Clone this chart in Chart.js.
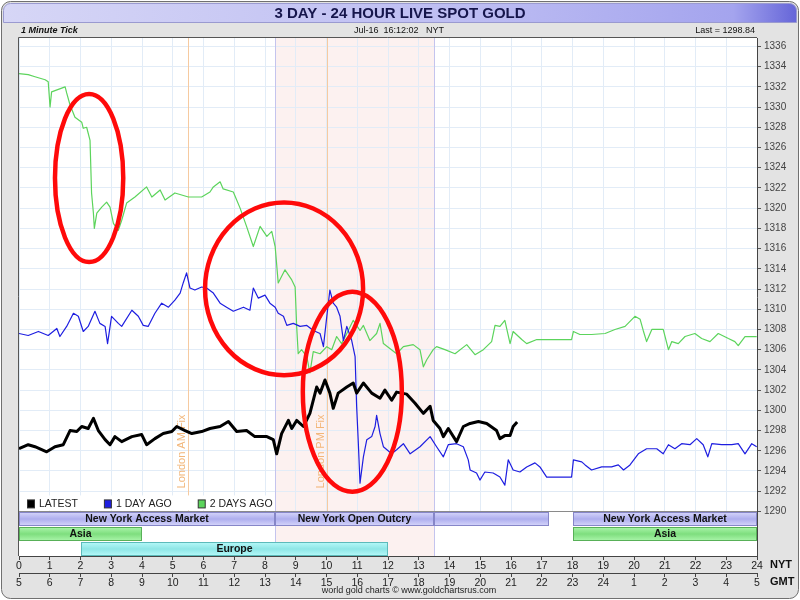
<!DOCTYPE html>
<html>
<head>
<meta charset="utf-8">
<title>3 Day Spot Gold</title>
<script src="https://cdn.jsdelivr.net/npm/chart.js@4.4.1/dist/chart.umd.min.js"></script>
<style>
html, body { margin: 0; padding: 0; background: #fff; }
#gold { display: block; }
</style>
</head>
<body>
<canvas id="gold" width="800" height="600"></canvas>
<script>
// NY time in decimal hours, price in USD/oz
const latestHours = [0.00,0.30,0.52,0.90,1.17,1.44,1.66,1.88,2.04,2.25,
  2.42,2.58,2.80,2.96,3.12,3.34,3.67,3.99,4.15,4.42,
  4.69,4.97,5.13,5.40,5.62,5.94,6.21,6.54,6.81,7.08,
  7.40,7.67,8.06,8.27,8.38,8.54,8.76,8.87,9.03,9.25,
  9.46,9.68,9.79,9.95,10.11,10.22,10.38,10.66,10.87,10.98,
  11.20,11.47,11.74,11.90,12.12,12.28,12.61,12.88,13.15,13.37,
  13.47,13.69,13.80,13.96,14.23,14.45,14.67,14.94,15.21,15.53,
  15.64,15.80,15.97,16.07,16.20];
const latestPrice = [1296.2,1296.6,1296.4,1295.9,1296.4,1296.6,1298.0,1297.9,1298.4,1298.2,
  1299.2,1298.0,1297.1,1296.6,1297.4,1296.9,1297.4,1297.6,1296.6,1297.2,
  1297.7,1297.9,1298.4,1298.0,1297.7,1297.9,1298.2,1298.4,1298.9,1297.9,
  1298.0,1297.4,1297.4,1297.1,1295.7,1297.7,1299.0,1298.2,1299.0,1298.4,
  1299.7,1302.3,1301.7,1303.0,1301.7,1300.2,1301.7,1302.3,1302.7,1301.7,
  1302.7,1301.7,1301.2,1302.0,1301.0,1301.8,1301.6,1300.7,1299.7,1300.4,
  1299.0,1298.2,1297.4,1298.2,1296.9,1298.4,1298.7,1298.9,1298.7,1298.0,
  1297.2,1297.5,1297.5,1298.4,1298.84];

const dayAgoHours = [0.00,0.30,0.63,0.95,1.23,1.33,1.55,1.77,1.93,2.09,
  2.25,2.47,2.63,2.80,2.88,3.01,3.23,3.34,3.67,3.88,
  4.04,4.20,4.42,4.64,4.86,5.07,5.24,5.34,5.45,5.56,
  5.72,5.94,6.10,6.32,6.54,6.75,6.97,7.30,7.51,7.62,
  7.78,8.00,8.16,8.33,8.43,8.60,8.71,8.92,9.14,9.36,
  9.57,9.79,9.90,10.01,10.11,10.22,10.33,10.44,10.55,10.66,
  10.82,10.93,10.98,11.03,11.09,11.20,11.31,11.47,11.58,11.63,
  11.74,11.85,12.12,12.28,12.50,12.72,13.04,13.37,13.58,13.80,
  13.96,14.23,14.45,14.61,14.67,14.88,14.99,15.15,15.42,15.64,
  15.80,15.91,16.07,16.29,16.51,16.78,16.94,17.16,17.97,18.03,
  18.30,18.41,18.62,18.95,19.27,19.49,19.66,19.87,20.14,20.41,
  20.74,20.95,21.12,21.33,21.55,21.82,22.04,22.25,22.40,22.53,
  22.85,23.18,23.39,23.61,23.83,23.99];
const dayAgoPrice = [1307.6,1307.4,1307.8,1307.4,1308.1,1307.3,1308.3,1309.6,1309.3,1307.8,
  1308.3,1309.8,1308.6,1308.3,1306.6,1309.3,1308.6,1308.3,1309.9,1309.3,
  1308.4,1308.3,1309.6,1310.6,1310.2,1310.9,1311.6,1312.6,1313.6,1312.1,
  1311.9,1312.2,1312.1,1311.6,1310.6,1310.2,1309.8,1310.2,1309.9,1312.1,
  1311.1,1311.4,1310.6,1310.2,1309.6,1309.3,1308.4,1308.6,1308.3,1308.4,
  1307.9,1307.6,1306.3,1309.3,1311.9,1310.6,1310.2,1309.3,1306.9,1308.3,
  1306.9,1305.3,1300.4,1297.1,1292.8,1295.4,1297.1,1297.4,1298.4,1299.5,
  1297.7,1296.4,1295.7,1296.1,1296.7,1295.7,1296.4,1297.4,1296.4,1295.4,
  1296.6,1296.7,1296.4,1295.1,1294.1,1293.8,1293.1,1293.9,1293.8,1293.4,
  1292.6,1295.1,1294.1,1293.9,1294.4,1294.8,1294.4,1293.4,1293.4,1295.1,
  1294.9,1294.6,1294.1,1294.4,1294.4,1294.6,1294.1,1294.6,1295.7,1296.2,
  1296.2,1295.7,1296.6,1296.2,1296.7,1296.6,1297.2,1296.6,1295.4,1296.7,
  1296.6,1296.6,1296.7,1295.7,1296.7,1296.4];

const twoDaysHours = [0.00,0.30,0.52,0.85,0.95,1.01,1.06,1.50,1.55,1.66,
  1.82,2.04,2.09,2.20,2.31,2.36,2.42,2.45,2.53,2.69,
  2.85,2.96,3.07,3.23,3.34,3.50,3.77,4.15,4.32,4.59,
  4.75,5.07,5.51,5.94,6.21,6.32,6.54,6.64,6.97,7.19,
  7.40,7.62,7.84,8.06,8.22,8.33,8.43,8.65,8.87,8.98,
  9.03,9.08,9.19,9.36,9.46,9.57,9.79,10.01,10.17,10.33,
  10.49,10.66,10.87,11.09,11.20,11.41,11.63,11.74,11.85,12.07,
  12.28,12.50,12.82,13.04,13.15,13.26,13.47,13.58,13.85,14.18,
  14.56,14.83,15.10,15.37,15.48,15.64,15.80,15.97,16.07,16.35,
  16.51,16.84,17.16,17.97,18.03,18.24,18.62,19.06,19.38,19.71,
  19.87,20.03,20.20,20.30,20.41,20.58,20.95,21.12,21.23,21.44,
  21.66,21.98,22.20,22.47,22.74,23.07,23.28,23.39,23.61,23.99];
const twoDaysPrice = [1333.3,1333.2,1333.0,1332.7,1332.5,1330.0,1331.5,1332.0,1331.4,1330.2,
  1329.0,1328.5,1327.9,1328.0,1326.7,1321.5,1319.5,1318.0,1319.5,1320.1,
  1320.6,1320.1,1318.5,1317.8,1318.8,1320.5,1321.1,1322.1,1321.1,1321.8,
  1320.8,1321.5,1321.1,1321.1,1321.6,1322.1,1322.6,1321.9,1321.6,1320.0,
  1318.2,1316.2,1318.2,1317.2,1317.7,1316.2,1312.6,1313.9,1312.9,1312.2,
  1308.3,1305.6,1306.0,1305.3,1303.7,1305.8,1305.6,1306.3,1306.0,1307.3,
  1306.6,1307.6,1308.9,1307.9,1308.4,1306.9,1307.6,1308.6,1306.6,1306.1,
  1305.6,1306.3,1306.5,1306.0,1304.3,1305.0,1306.0,1306.3,1306.0,1305.6,
  1306.5,1305.5,1306.0,1306.8,1308.4,1308.3,1308.9,1306.6,1307.8,1307.0,
  1306.6,1307.0,1307.0,1307.0,1307.8,1307.5,1307.5,1307.6,1308.0,1308.3,
  1308.8,1309.3,1309.0,1307.9,1306.8,1308.0,1308.0,1306.0,1306.8,1306.6,
  1307.3,1307.6,1307.1,1306.8,1307.6,1307.1,1306.8,1306.4,1307.3,1307.3];

// axis labels
const nytHours = [0,1,2,3,4,5,6,7,8,9,10,11,12,13,14,15,16,17,18,19,20,21,22,23,24];
const gmtHours = [5,6,7,8,9,10,11,12,13,14,15,16,17,18,19,20,21,22,23,24,1,2,3,4,5];
const priceTicks = [1290,1292,1294,1296,1298,1300,1302,1304,1306,1308,1310,1312,1314,1316,
  1318,1320,1322,1324,1326,1328,1330,1332,1334,1336];

// market sessions (NY hours) drawn under the price area
const sessionName = ['New York Access Market', 'New York Open Outcry', '', 'New York Access Market', 'Asia', 'Asia', 'Europe'];
const sessionFrom = [0, 8.333, 13.5, 18, 0, 18, 2];
const sessionTo = [8.333, 13.5, 17.25, 24, 4, 24, 12];
const sessionRow = [0, 0, 0, 0, 1, 1, 2];

const fixName = ['London AM Fix', 'London PM Fix'];
const fixHour = [5.5, 10.0];

// red hand drawn circles, in hours / dollars
const circleHour = [2.28, 8.62, 10.84];
const circlePrice = [1322.97, 1312.02, 1301.84];
const circleRadHour = [1.11, 2.57, 1.61];
const circleRadPrice = [8.31, 8.54, 9.89];

const FONT = '"Liberation Sans", Arial, Helvetica, sans-serif';

function toPoints(hours, prices) {
  return hours.map((h, i) => ({ x: h, y: prices[i] }));
}

const decor = {
  id: 'decor',
  beforeDraw(chart) {
    const c = chart.ctx, a = chart.chartArea, xs = chart.scales.x;
    const W = chart.width, H = chart.height;
    c.save();
    c.fillStyle = '#ffffff';
    c.fillRect(0, 0, W, H);
    c.beginPath();
    c.roundRect(1.5, 1.5, W - 3, H - 3, 9);
    c.fillStyle = '#e3e3e3';
    c.fill();
    c.strokeStyle = '#707070';
    c.lineWidth = 1;
    c.stroke();

    // title bar
    const g = c.createLinearGradient(3, 0, W - 3, 0);
    g.addColorStop(0, '#d6d6f6');
    g.addColorStop(0.6, '#bcbcf2');
    g.addColorStop(0.92, '#a4a4ee');
    g.addColorStop(1, '#6565d8');
    c.beginPath();
    c.roundRect(3.5, 3.5, W - 7, 19, [7, 7, 0, 0]);
    c.fillStyle = g;
    c.fill();
    c.strokeStyle = '#9a9ad0';
    c.stroke();
    c.fillStyle = '#16164c';
    c.font = 'bold 15px ' + FONT;
    c.textAlign = 'center';
    c.textBaseline = 'middle';
    c.fillText('3 DAY - 24 HOUR LIVE SPOT GOLD', W / 2, 14);

    // sub title row
    c.fillStyle = '#111';
    c.font = 'italic bold 9px ' + FONT;
    c.textAlign = 'left';
    c.fillText('1 Minute Tick', 21, 31);
    c.font = '9px ' + FONT;
    c.textAlign = 'center';
    c.fillText('Jul-16  16:12:02   NYT', 399, 31);
    c.textAlign = 'right';
    c.fillText('Last = ' + latestPrice[latestPrice.length - 1].toFixed(2), 755, 31);

    // plot background and open outcry shading
    c.fillStyle = '#ffffff';
    c.fillRect(a.left, a.top, a.right - a.left, a.bottom - a.top);
    const p0 = xs.getPixelForValue(sessionFrom[1]);
    const p1 = xs.getPixelForValue(sessionTo[1]);
    c.fillStyle = '#fcf1f0';
    c.fillRect(p0, a.top, p1 - p0, a.bottom - a.top);
    c.restore();
  },

  beforeDatasetsDraw(chart) {
    const c = chart.ctx, a = chart.chartArea, xs = chart.scales.x, ys = chart.scales.y;
    const zoneTop = ys.getPixelForValue(priceTicks[0]);
    c.save();

    // session boundary lines for the outcry
    c.strokeStyle = '#c4c4ee';
    c.lineWidth = 1;
    [sessionFrom[1], sessionTo[1]].forEach(h => {
      const px = Math.round(xs.getPixelForValue(h)) + 0.5;
      c.beginPath();
      c.moveTo(px, a.top);
      c.lineTo(px, a.bottom);
      c.stroke();
    });

    // London fixes
    fixHour.forEach((h, i) => {
      const px = Math.round(xs.getPixelForValue(h)) + 0.5;
      c.strokeStyle = '#f6caa0';
      c.beginPath();
      c.moveTo(px, a.top);
      c.lineTo(px, zoneTop);
      c.stroke();
      c.save();
      c.translate(px - 7, zoneTop - 23);
      c.rotate(-Math.PI / 2);
      c.fillStyle = '#f2b679';
      c.font = '11px ' + FONT;
      c.textAlign = 'left';
      c.textBaseline = 'middle';
      c.fillText(fixName[i], 0, 0);
      c.restore();
    });

    // market session zone
    const rowH = (a.bottom - zoneTop) / 3;
    c.fillStyle = '#ffffff';
    c.fillRect(a.left, zoneTop, a.right - a.left, a.bottom - zoneTop);
    const p0 = xs.getPixelForValue(sessionFrom[1]);
    const p1 = xs.getPixelForValue(sessionTo[1]);
    c.fillStyle = '#fcf1f0';
    c.fillRect(p0, zoneTop, p1 - p0, a.bottom - zoneTop);
    c.strokeStyle = '#c4c4ee';
    [p0, p1].forEach(px => {
      px = Math.round(px) + 0.5;
      c.beginPath();
      c.moveTo(px, zoneTop);
      c.lineTo(px, a.bottom);
      c.stroke();
    });

    const rowFill = [['#d4d4fa', '#aeaeee'], ['#a8f4a8', '#7ede7e'], ['#b4f8f8', '#8ee6e6']];
    const rowLine = ['#8686c8', '#58b058', '#5cbaba'];
    sessionName.forEach((name, i) => {
      const r = sessionRow[i];
      const x0 = Math.round(xs.getPixelForValue(sessionFrom[i])) + 0.5;
      const x1 = Math.round(xs.getPixelForValue(sessionTo[i])) - 0.5;
      const y0 = Math.round(zoneTop + r * rowH) + 1.5;
      const y1 = Math.round(zoneTop + (r + 1) * rowH) - 0.5;
      const gr = c.createLinearGradient(0, y0, 0, y1);
      gr.addColorStop(0, rowFill[r][0]);
      gr.addColorStop(0.5, rowFill[r][1]);
      gr.addColorStop(1, rowFill[r][0]);
      c.fillStyle = gr;
      c.fillRect(x0, y0, x1 - x0, y1 - y0);
      c.strokeStyle = rowLine[r];
      c.strokeRect(x0, y0, x1 - x0, y1 - y0);
      if (name) {
        c.fillStyle = '#111';
        c.font = 'bold 10.5px ' + FONT;
        c.textAlign = 'center';
        c.textBaseline = 'middle';
        c.fillText(name, (x0 + x1) / 2, (y0 + y1) / 2 + 0.5);
      }
    });

    // separator at the bottom of the price area
    c.strokeStyle = '#8a8a8a';
    c.beginPath();
    c.moveTo(a.left, Math.round(zoneTop) + 0.5);
    c.lineTo(a.right, Math.round(zoneTop) + 0.5);
    c.stroke();

    // legend
    c.fillStyle = '#ffffff';
    c.fillRect(a.left + 1, zoneTop - 16, p0 - a.left - 2, 15);
    c.font = '10.5px ' + FONT;
    c.textAlign = 'left';
    c.textBaseline = 'middle';
    let lx = a.left + 8;
    const ly = zoneTop - 7.5;
    chart.data.datasets.forEach(ds => {
      c.fillStyle = ds.borderColor;
      c.fillRect(lx + 0.5, ly - 4, 7, 8);
      c.strokeStyle = '#333';
      c.strokeRect(lx + 0.5, ly - 4, 7, 8);
      c.fillStyle = '#222';
      c.fillText(ds.label, lx + 12, ly + 0.5);
      lx += 12 + c.measureText(ds.label).width + 26;
    });
    c.restore();
  },

  afterDatasetsDraw(chart) {
    const c = chart.ctx, a = chart.chartArea, xs = chart.scales.x, ys = chart.scales.y;
    c.save();
    c.strokeStyle = '#ff0a0a';
    c.lineWidth = 4.5;
    circleHour.forEach((h, i) => {
      const cx = xs.getPixelForValue(h);
      const cy = ys.getPixelForValue(circlePrice[i]);
      const rx = Math.abs(xs.getPixelForValue(h + circleRadHour[i]) - cx);
      const ry = Math.abs(ys.getPixelForValue(circlePrice[i] + circleRadPrice[i]) - cy);
      c.beginPath();
      c.ellipse(cx, cy, rx, ry, 0, 0, Math.PI * 2);
      c.stroke();
    });
    // frame left and top
    c.strokeStyle = '#555';
    c.lineWidth = 1;
    c.beginPath();
    c.moveTo(Math.round(a.left) - 0.5, a.bottom);
    c.lineTo(Math.round(a.left) - 0.5, Math.round(a.top) - 0.5);
    c.lineTo(a.right, Math.round(a.top) - 0.5);
    c.stroke();
    c.restore();
  },

  afterDraw(chart) {
    const c = chart.ctx, xs = chart.scales.x, x2 = chart.scales.x2;
    c.save();
    c.fillStyle = '#111';
    c.font = 'bold 11px ' + FONT;
    c.textAlign = 'left';
    c.textBaseline = 'middle';
    c.fillText('NYT', 770, xs.top + 9);
    c.fillText('GMT', 770, x2.top + 9);
    c.font = '9px ' + FONT;
    c.textAlign = 'center';
    c.fillStyle = '#222';
    c.fillText('world gold charts \u00A9 www.goldchartsrus.com', 409, 591);
    c.restore();
  }
};

const ctx = document.getElementById('gold').getContext('2d');
const chart = new Chart(ctx, {
  type: 'line',
  data: {
    datasets: [
      { label: 'LATEST', data: toPoints(latestHours, latestPrice), borderColor: '#000000',
        borderWidth: 3, xAxisID: 'x', yAxisID: 'y' },
      { label: '1 DAY AGO', data: toPoints(dayAgoHours, dayAgoPrice), borderColor: '#1e1ee0',
        borderWidth: 1.2, xAxisID: 'x', yAxisID: 'y' },
      { label: '2 DAYS AGO', data: toPoints(twoDaysHours, twoDaysPrice), borderColor: '#5cd45c',
        borderWidth: 1.2, xAxisID: 'x', yAxisID: 'y' }
    ]
  },
  options: {
    responsive: false,
    animation: false,
    devicePixelRatio: 1,
    layout: { padding: { left: 19, top: 38, right: 13, bottom: 11 } },
    elements: {
      point: { radius: 0 },
      line: { tension: 0, borderJoinStyle: 'round' }
    },
    plugins: {
      legend: { display: false },
      tooltip: { enabled: false },
      title: { display: false }
    },
    scales: {
      x: {
        type: 'linear', position: 'bottom', min: 0, max: 24,
        afterBuildTicks: s => { s.ticks = nytHours.map(v => ({ value: v })); },
        afterFit: s => { s.height = 17; },
        grid: { color: '#e2ecf7', tickColor: '#444', tickLength: 4 },
        border: { color: '#444', width: 1 },
        ticks: { autoSkip: false, maxRotation: 0, padding: 0, color: '#222',
          font: { family: FONT, size: 10.5 },
          callback: (v, i) => String(nytHours[i]) }
      },
      x2: {
        axis: 'x', type: 'linear', position: 'bottom', min: 0, max: 24,
        afterBuildTicks: s => { s.ticks = nytHours.map(v => ({ value: v })); },
        afterFit: s => { s.height = 16; },
        grid: { drawOnChartArea: false, tickColor: '#444', tickLength: 4 },
        border: { color: '#444', width: 1 },
        ticks: { autoSkip: false, maxRotation: 0, padding: 0, color: '#222',
          font: { family: FONT, size: 10.5 },
          callback: (v, i) => String(gmtHours[i]) }
      },
      y: {
        position: 'right', min: 1285.59, max: 1336.83,
        afterBuildTicks: s => { s.ticks = priceTicks.map(v => ({ value: v })); },
        afterFit: s => { s.width = 30; },
        grid: { color: '#e2ecf7', tickColor: '#555', tickLength: 4 },
        border: { color: '#444', width: 1 },
        ticks: { padding: 3, color: '#444', font: { family: FONT, size: 10 },
          callback: (v, i) => String(priceTicks[i]) }
      }
    }
  },
  plugins: [decor]
});
</script>
</body>
</html>
